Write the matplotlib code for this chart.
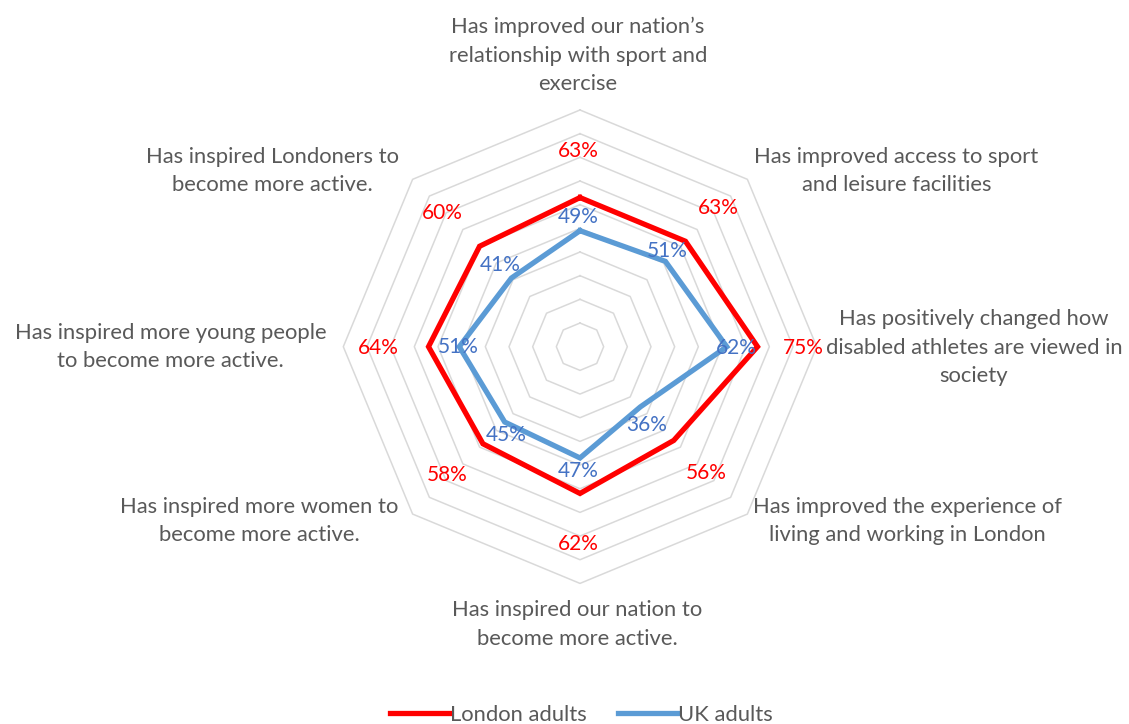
import numpy as np
import matplotlib.pyplot as plt

plt.rcParams['font.family'] = ['Lato', 'DejaVu Sans']

categories = [
    'Has improved our nation\u2019s\nrelationship with sport and\nexercise',
    'Has improved access to sport\nand leisure facilities',
    'Has positively changed how\ndisabled athletes are viewed in\nsociety',
    'Has improved the experience of\nliving and working in London',
    'Has inspired our nation to\nbecome more active.',
    'Has inspired more women to\nbecome more active.',
    'Has inspired more young people\nto become more active.',
    'Has inspired Londoners to\nbecome more active.',
]
london = [63, 63, 75, 56, 62, 58, 64, 60]
uk = [49, 51, 62, 36, 47, 45, 51, 41]

RED = '#FF0000'
BLUE = '#5B9BD5'
BLUE_TXT = '#4472C4'
GREY_TXT = '#595959'
GRID = '#D9D9D9'

n = len(categories)
angles = np.arange(n) * 2 * np.pi / n
closed = np.append(angles, angles[0])

fig = plt.figure(figsize=(11.29, 7.24), dpi=100)
W, H = 1129, 724
cx, cy, R = 580, 346.7, 236.7
ax = fig.add_axes([(cx - R) / W, (H - cy - R) / H, 2 * R / W, 2 * R / H],
                  projection='polar')
ax.set_theta_zero_location('N')
ax.set_theta_direction(-1)
ax.set_ylim(0, 100)
ax.grid(False)
ax.set_xticks([])
ax.set_yticks([])
ax.spines['polar'].set_visible(False)
ax.patch.set_alpha(0)

# octagonal rings every 10%
for v in range(10, 101, 10):
    ax.plot(closed, [v] * (n + 1), color=GRID, lw=1.1, clip_on=False, zorder=1)

l1, = ax.plot(closed, london + london[:1], color=RED, lw=3.8, zorder=3,
              solid_joinstyle='miter', clip_on=False)
l2, = ax.plot(closed, uk + uk[:1], color=BLUE, lw=3.8, zorder=2,
              solid_joinstyle='miter', clip_on=False)

# data label offsets in pixels (dx, dy)
lon_off = [(-2, 47), (33, 33), (46, -1), (33, -33), (-2, -51), (-36, -31), (-50, -1), (-37, 33)]
uk_off = [(-2, 14), (2, 10), (10, -1), (6, -18), (-2, -13), (2, -13), (-1, 0), (-11, 13)]

for a, v, o in zip(angles, london, lon_off):
    ax.annotate(f'{v}%', xy=(a, v), xytext=o, textcoords='offset pixels',
                ha='center', va='center', color=RED, fontsize=15, zorder=5)
for a, v, o in zip(angles, uk, uk_off):
    ax.annotate(f'{v}%', xy=(a, v), xytext=o, textcoords='offset pixels',
                ha='center', va='center', color=BLUE_TXT, fontsize=15, zorder=5)

# category labels
cat_pos = [
    ((-2, 16), 'center', 'bottom'),
    ((7, 8), 'left', 'center'),
    ((9, -1), 'left', 'center'),
    ((6, -7), 'left', 'center'),
    ((-3, -17), 'center', 'top'),
    ((-14, -7), 'right', 'center'),
    ((-17, 0), 'right', 'center'),
    ((-14, 8), 'right', 'center'),
]
for a, c, (o, ha, va) in zip(angles, categories, cat_pos):
    ax.annotate(c, xy=(a, 100), xytext=o, textcoords='offset pixels',
                ha=ha, va=va, multialignment='center', color=GREY_TXT,
                fontsize=15.8, linespacing=1.52, annotation_clip=False)

fig.legend([l1, l2], ['London adults', 'UK adults'], loc='center',
           bbox_to_anchor=(0.515, 9 / H), ncol=2, frameon=False,
           fontsize=15.8, handlelength=2.7, handletextpad=0.05,
           columnspacing=1.4, labelcolor=GREY_TXT)

fig.savefig('out.png', dpi=100)
